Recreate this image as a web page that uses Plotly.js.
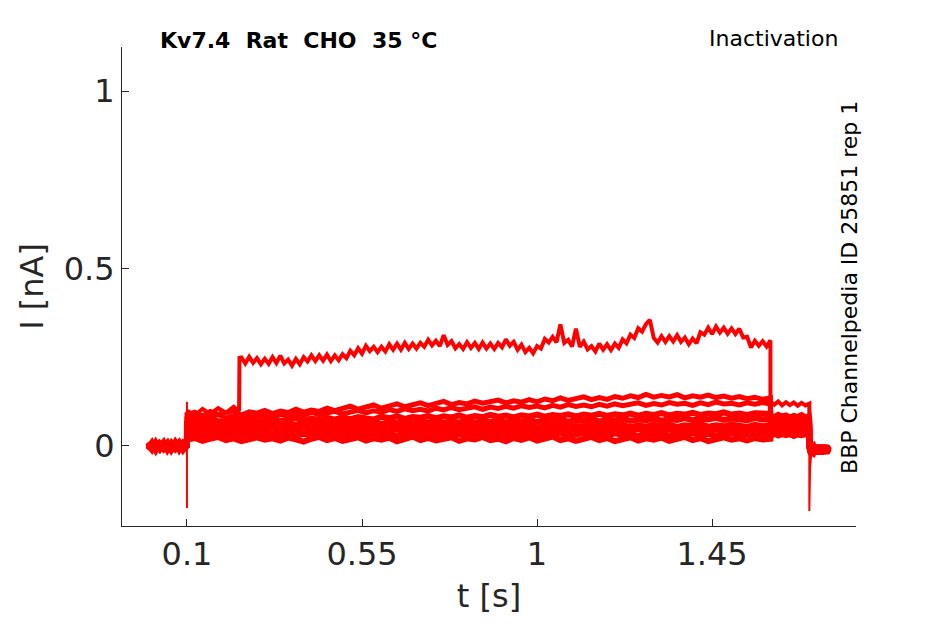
<!DOCTYPE html>
<html>
<head>
<meta charset="utf-8">
<script src="https://cdn.plot.ly/plotly-3.0.1.min.js"></script>
<style>
  body { margin: 0; background: #ffffff; }
  #myDiv { width: 945px; height: 624px; }
</style>
</head>
<body>
<div id="myDiv"></div>
<script>
// time bases [s]
var tBase = [0, 0.01, 0.02, 0.03, 0.04, 0.05, 0.06, 0.07, 0.08, 0.09, 0.1];
var tPulse = [0.1, 0.102,
  0.12, 0.14, 0.16, 0.18, 0.2, 0.22, 0.24, 0.26, 0.28, 0.3,
  0.32, 0.34, 0.36, 0.38, 0.4, 0.42, 0.44, 0.46, 0.48, 0.5,
  0.52, 0.54, 0.56, 0.58, 0.6, 0.62, 0.64, 0.66, 0.68, 0.7,
  0.72, 0.74, 0.76, 0.78, 0.8, 0.82, 0.84, 0.86, 0.88, 0.9,
  0.92, 0.94, 0.96, 0.98, 1.0, 1.02, 1.04, 1.06, 1.08, 1.1,
  1.12, 1.14, 1.16, 1.18, 1.2, 1.22, 1.24, 1.26, 1.28, 1.3,
  1.32, 1.34, 1.36, 1.38, 1.4, 1.42, 1.44, 1.46, 1.48, 1.5,
  1.52, 1.54, 1.56, 1.58, 1.6];
var tTop = [0.1, 0.102, 0.12, 0.14, 0.16, 0.18, 0.2, 0.22, 0.234, 0.235,
  0.24, 0.25, 0.26, 0.27, 0.28, 0.29, 0.3, 0.31, 0.32, 0.33,
  0.34, 0.35, 0.36, 0.37, 0.38, 0.39, 0.4, 0.41, 0.42, 0.43,
  0.44, 0.45, 0.46, 0.47, 0.48, 0.49, 0.5, 0.51, 0.52, 0.53,
  0.54, 0.55, 0.56, 0.57, 0.58, 0.59, 0.6, 0.61, 0.62, 0.63,
  0.64, 0.65, 0.66, 0.67, 0.68, 0.69, 0.7, 0.71, 0.72, 0.73,
  0.74, 0.75, 0.76, 0.77, 0.78, 0.79, 0.8, 0.81, 0.82, 0.83,
  0.84, 0.85, 0.86, 0.87, 0.88, 0.89, 0.9, 0.91, 0.92, 0.93,
  0.94, 0.95, 0.96, 0.97, 0.98, 0.99, 1.0, 1.01, 1.02, 1.03,
  1.04, 1.05, 1.06, 1.07, 1.08, 1.09, 1.1, 1.11, 1.12, 1.13,
  1.14, 1.15, 1.16, 1.17, 1.18, 1.19, 1.2, 1.21, 1.22, 1.23,
  1.24, 1.25, 1.26, 1.27, 1.28, 1.29, 1.3, 1.31, 1.32, 1.33,
  1.34, 1.35, 1.36, 1.37, 1.38, 1.39, 1.4, 1.41, 1.42, 1.43,
  1.44, 1.45, 1.46, 1.47, 1.48, 1.49, 1.5, 1.51, 1.52, 1.53,
  1.54, 1.55, 1.56, 1.57, 1.58, 1.59, 1.6];
var tTest = [1.6, 1.61, 1.62, 1.63, 1.64, 1.65, 1.66, 1.67, 1.68, 1.69, 1.7];
var tTail = [1.7, 1.702, 1.71, 1.715, 1.72, 1.725, 1.73, 1.735, 1.74, 1.745, 1.75];

// capacitive transients at the voltage steps
var tSpikeOn = [0.1, 0.1, 0.1, 0.1];
var iSpikeOn = [0.0, -0.175, 0.124, 0.09];
var tSpikeOff = [1.7, 1.7, 1.702, 1.706];
var iSpikeOff = [0.1, -0.184, -0.06, -0.01];

// current [nA], sweep A (largest) .. I (smallest)
var baseA = [0.008, -0.009, 0.004, -0.012, 0.009, -0.005, 0.011, -0.01, 0.003, -0.008, 0.0];
var baseB = [-0.01, 0.006, -0.007, 0.01, -0.013, 0.004, -0.009, 0.008, -0.014, 0.005, -0.002];
var baseC = [0.004, -0.012, 0.009, -0.003, 0.007, -0.011, 0.002, -0.008, 0.01, -0.01, 0.001];
var baseD = [-0.006, 0.009, -0.011, 0.002, -0.008, 0.01, -0.012, 0.004, -0.005, 0.008, -0.004];
var baseE = [0.01, -0.005, 0.002, -0.01, 0.006, -0.014, 0.007, -0.003, 0.009, -0.012, 0.002];
var baseF = [-0.012, 0.002, -0.008, 0.007, -0.003, 0.009, -0.01, 0.01, -0.006, 0.004, -0.006];
var baseG = [0.002, -0.01, 0.01, -0.006, 0.004, -0.009, 0.006, -0.013, 0.007, -0.002, 0.003];
var baseH = [-0.005, 0.007, -0.013, 0.005, -0.009, 0.002, -0.006, 0.009, -0.011, 0.007, -0.003];
var baseI = [0.009, -0.008, 0.005, -0.003, 0.01, -0.012, 0.004, -0.009, 0.006, -0.006, 0.001];

var pulseA = [0.09, 0.098, 0.086, 0.104, 0.09, 0.106, 0.093, 0.11, 0.098, 0.248,
  0.249, 0.232, 0.251, 0.234, 0.247, 0.23, 0.245, 0.231, 0.25, 0.233,
  0.254, 0.232, 0.243, 0.226, 0.245, 0.23, 0.25, 0.238, 0.255, 0.239,
  0.255, 0.24, 0.257, 0.239, 0.255, 0.241, 0.258, 0.247, 0.268, 0.255,
  0.275, 0.26, 0.282, 0.267, 0.279, 0.264, 0.279, 0.266, 0.286, 0.271,
  0.288, 0.271, 0.29, 0.273, 0.288, 0.274, 0.29, 0.279, 0.299, 0.283,
  0.296, 0.281, 0.312, 0.284, 0.295, 0.275, 0.287, 0.273, 0.292, 0.276,
  0.29, 0.273, 0.291, 0.274, 0.288, 0.273, 0.29, 0.278, 0.3, 0.282,
  0.293, 0.271, 0.285, 0.264, 0.276, 0.261, 0.281, 0.274, 0.301, 0.291,
  0.307, 0.292, 0.342, 0.29, 0.299, 0.28, 0.33, 0.279, 0.294, 0.272,
  0.281, 0.266, 0.288, 0.271, 0.286, 0.27, 0.288, 0.276, 0.3, 0.289,
  0.313, 0.304, 0.331, 0.322, 0.343, 0.355, 0.304, 0.291, 0.309, 0.293,
  0.309, 0.294, 0.312, 0.293, 0.305, 0.286, 0.302, 0.289, 0.32, 0.313,
  0.333, 0.315, 0.336, 0.319, 0.333, 0.316, 0.331, 0.315, 0.33, 0.305,
  0.307, 0.277, 0.296, 0.282, 0.295, 0.28, 0.297];
var pulseB = [0.094, 0.088,
  0.095, 0.084, 0.097, 0.089, 0.093, 0.099, 0.087, 0.096, 0.092, 0.1,
  0.091, 0.098, 0.094, 0.103, 0.095, 0.101, 0.097, 0.106, 0.099, 0.104,
  0.112, 0.103, 0.109, 0.115, 0.106, 0.113, 0.118, 0.11, 0.117, 0.121,
  0.113, 0.119, 0.125, 0.116, 0.122, 0.118, 0.126, 0.12, 0.124, 0.129,
  0.121, 0.127, 0.123, 0.13, 0.124, 0.132, 0.127, 0.135, 0.128, 0.133,
  0.138, 0.13, 0.136, 0.131, 0.139, 0.134, 0.141, 0.136, 0.145, 0.137,
  0.142, 0.138, 0.144, 0.135, 0.141, 0.137, 0.143, 0.136, 0.14, 0.134,
  0.139, 0.133, 0.137, 0.131, 0.135];
var pulseC = [0.082, 0.079,
  0.084, 0.076, 0.082, 0.088, 0.078, 0.085, 0.081, 0.089, 0.083, 0.087,
  0.08, 0.089, 0.085, 0.092, 0.086, 0.094, 0.088, 0.093, 0.097, 0.09,
  0.096, 0.1, 0.093, 0.099, 0.095, 0.102, 0.097, 0.104, 0.099, 0.103,
  0.098, 0.106, 0.101, 0.108, 0.102, 0.107, 0.11, 0.103, 0.109, 0.105,
  0.111, 0.106, 0.113, 0.108, 0.112, 0.107, 0.114, 0.109, 0.116, 0.111,
  0.115, 0.11, 0.117, 0.112, 0.118, 0.113, 0.116, 0.121, 0.114, 0.119,
  0.115, 0.122, 0.117, 0.12, 0.114, 0.121, 0.116, 0.123, 0.118, 0.12,
  0.115, 0.121, 0.117, 0.122, 0.118];
var pulseD = [0.07, 0.068,
  0.072, 0.066, 0.074, 0.069, 0.065, 0.073, 0.07, 0.075, 0.068, 0.072,
  0.076, 0.07, 0.074, 0.078, 0.071, 0.077, 0.073, 0.079, 0.074, 0.08,
  0.075, 0.081, 0.077, 0.074, 0.082, 0.078, 0.083, 0.076, 0.081, 0.079,
  0.084, 0.078, 0.083, 0.08, 0.086, 0.079, 0.084, 0.081, 0.087, 0.082,
  0.085, 0.08, 0.086, 0.083, 0.088, 0.082, 0.087, 0.084, 0.089, 0.083,
  0.088, 0.085, 0.09, 0.084, 0.089, 0.086, 0.091, 0.085, 0.09, 0.087,
  0.092, 0.086, 0.09, 0.088, 0.093, 0.087, 0.091, 0.089, 0.094, 0.088,
  0.091, 0.087, 0.092, 0.089, 0.09];
var pulseE = [0.06, 0.058,
  0.062, 0.056, 0.061, 0.065, 0.057, 0.063, 0.059, 0.064, 0.058, 0.062,
  0.066, 0.06, 0.064, 0.058, 0.063, 0.067, 0.061, 0.065, 0.06, 0.066,
  0.062, 0.068, 0.063, 0.066, 0.061, 0.067, 0.064, 0.069, 0.063, 0.067,
  0.065, 0.07, 0.064, 0.068, 0.066, 0.071, 0.065, 0.069, 0.067, 0.072,
  0.066, 0.07, 0.068, 0.073, 0.067, 0.071, 0.069, 0.074, 0.068, 0.072,
  0.07, 0.075, 0.069, 0.073, 0.071, 0.076, 0.07, 0.074, 0.072, 0.077,
  0.071, 0.075, 0.073, 0.078, 0.072, 0.076, 0.074, 0.079, 0.073, 0.077,
  0.075, 0.072, 0.078, 0.074, 0.076];
var pulseF = [0.05, 0.047,
  0.052, 0.046, 0.051, 0.055, 0.048, 0.053, 0.049, 0.054, 0.047, 0.052,
  0.056, 0.05, 0.053, 0.048, 0.055, 0.051, 0.057, 0.049, 0.054, 0.052,
  0.048, 0.055, 0.05, 0.056, 0.052, 0.058, 0.051, 0.054, 0.049, 0.056,
  0.053, 0.057, 0.05, 0.055, 0.052, 0.058, 0.051, 0.056, 0.053, 0.059,
  0.052, 0.056, 0.054, 0.058, 0.051, 0.057, 0.053, 0.059, 0.052, 0.056,
  0.054, 0.06, 0.053, 0.057, 0.055, 0.059, 0.052, 0.058, 0.054, 0.06,
  0.055, 0.059, 0.053, 0.058, 0.056, 0.061, 0.054, 0.058, 0.055, 0.06,
  0.056, 0.053, 0.059, 0.055, 0.057];
var pulseG = [0.04, 0.038,
  0.042, 0.036, 0.041, 0.045, 0.037, 0.043, 0.039, 0.044, 0.036, 0.042,
  0.038, 0.044, 0.04, 0.046, 0.037, 0.043, 0.039, 0.045, 0.041, 0.038,
  0.044, 0.04, 0.046, 0.038, 0.043, 0.041, 0.047, 0.039, 0.044, 0.042,
  0.038, 0.045, 0.041, 0.046, 0.039, 0.044, 0.04, 0.047, 0.042, 0.045,
  0.039, 0.044, 0.041, 0.047, 0.04, 0.045, 0.042, 0.046, 0.039, 0.044,
  0.041, 0.047, 0.042, 0.045, 0.04, 0.046, 0.043, 0.048, 0.041, 0.045,
  0.042, 0.047, 0.04, 0.045, 0.043, 0.048, 0.041, 0.046, 0.042, 0.047,
  0.043, 0.04, 0.046, 0.042, 0.045];
var pulseH = [0.03, 0.028,
  0.032, 0.026, 0.031, 0.035, 0.027, 0.033, 0.029, 0.034, 0.026, 0.031,
  0.035, 0.028, 0.033, 0.027, 0.034, 0.03, 0.036, 0.028, 0.032, 0.029,
  0.034, 0.027, 0.032, 0.036, 0.029, 0.033, 0.028, 0.035, 0.031, 0.026,
  0.033, 0.029, 0.035, 0.03, 0.034, 0.027, 0.032, 0.036, 0.029, 0.033,
  0.028, 0.034, 0.031, 0.036, 0.029, 0.033, 0.03, 0.035, 0.028, 0.032,
  0.036, 0.03, 0.034, 0.029, 0.035, 0.031, 0.033, 0.028, 0.034, 0.03,
  0.035, 0.029, 0.033, 0.031, 0.036, 0.03, 0.034, 0.028, 0.032, 0.035,
  0.03, 0.034, 0.029, 0.033, 0.031];
var pulseI = [0.02, 0.018,
  0.022, 0.014, 0.02, 0.025, 0.016, 0.021, 0.013, 0.019, 0.024, 0.017,
  0.021, 0.015, 0.023, 0.018, 0.012, 0.02, 0.025, 0.016, 0.022, 0.014,
  0.019, 0.024, 0.015, 0.021, 0.017, 0.023, 0.013, 0.02, 0.026, 0.016,
  0.022, 0.015, 0.019, 0.024, 0.014, 0.021, 0.018, 0.025, 0.016, 0.02,
  0.013, 0.022, 0.017, 0.024, 0.015, 0.02, 0.026, 0.016, 0.021, 0.014,
  0.019, 0.025, 0.016, 0.022, 0.013, 0.02, 0.024, 0.015, 0.021, 0.017,
  0.023, 0.014, 0.02, 0.025, 0.016, 0.022, 0.013, 0.019, 0.024, 0.017,
  0.021, 0.015, 0.022, 0.018, 0.02];

var testA = [0.124, 0.116, 0.125, 0.114, 0.123, 0.115, 0.122, 0.113, 0.121, 0.114, 0.119];
var testB = [0.088, 0.082, 0.089, 0.084, 0.087, 0.081, 0.086, 0.083, 0.088, 0.082, 0.085];
var testC = [0.079, 0.074, 0.08, 0.076, 0.081, 0.075, 0.079, 0.073, 0.078, 0.076, 0.077];
var testD = [0.07, 0.065, 0.071, 0.067, 0.072, 0.066, 0.069, 0.064, 0.07, 0.066, 0.068];
var testE = [0.061, 0.057, 0.063, 0.058, 0.062, 0.056, 0.06, 0.055, 0.061, 0.057, 0.059];
var testF = [0.052, 0.047, 0.053, 0.049, 0.054, 0.048, 0.051, 0.046, 0.052, 0.049, 0.05];
var testG = [0.045, 0.04, 0.046, 0.042, 0.044, 0.039, 0.045, 0.041, 0.043, 0.04, 0.044];
var testH = [0.038, 0.033, 0.039, 0.035, 0.037, 0.032, 0.038, 0.034, 0.036, 0.033, 0.037];
var testI = [0.031, 0.035, 0.029, 0.033, 0.03, 0.034, 0.028, 0.032, 0.03, 0.033, 0.031];

var tailA = [-0.012, -0.014, 0.0, -0.019, -0.003, -0.022, -0.006, -0.017, 0.001, -0.02, -0.008];
var tailB = [-0.014, -0.02, -0.024, -0.004, -0.021, -0.002, -0.018, 0.002, -0.016, -0.003, -0.015];
var tailC = [-0.01, -0.016, -0.006, -0.024, -0.004, -0.02, 0.0, -0.017, -0.005, -0.022, -0.006];
var tailD = [-0.008, -0.012, -0.019, 0.0, -0.017, 0.002, -0.021, -0.004, -0.018, -0.001, -0.011];
var tailE = [-0.006, -0.01, -0.002, -0.02, -0.005, -0.023, -0.003, -0.016, 0.0, -0.018, -0.01];
var tailF = [-0.004, -0.012, -0.016, 0.001, -0.018, -0.004, -0.024, -0.001, -0.017, -0.003, -0.016];
var tailG = [-0.002, -0.008, -0.004, -0.021, 0.0, -0.017, -0.006, -0.022, -0.002, -0.016, -0.003];
var tailH = [0.0, -0.006, -0.02, -0.002, -0.016, 0.002, -0.019, -0.005, -0.021, -0.001, -0.011];
var tailI = [0.002, -0.004, 0.001, -0.017, -0.003, -0.02, -0.001, -0.015, 0.002, -0.018, -0.009];

var xTicks = [0.1, 0.55, 1, 1.45];
var xTickText = ['0.1', '0.55', '1', '1.45'];
var yTicks = [0, 0.5, 1];
var yTickText = ['0', '0.5', '1'];

function sweep(base, tPul, pulse, test, tail, w) {
  return {
    x: tBase.concat(tPul, tTest, tTail),
    y: base.concat(pulse, test, tail),
    type: 'scatter',
    mode: 'lines',
    line: { color: '#ff0000', width: w },
    hoverinfo: 'skip'
  };
}

function transient(t, i) {
  return {
    x: t, y: i,
    type: 'scatter',
    mode: 'lines',
    line: { color: '#ff0000', width: 2 },
    hoverinfo: 'skip'
  };
}

var data = [
  sweep(baseI, tPulse, pulseI, testI, tailI, 6),
  sweep(baseH, tPulse, pulseH, testH, tailH, 6),
  sweep(baseG, tPulse, pulseG, testG, tailG, 6),
  sweep(baseF, tPulse, pulseF, testF, tailF, 6),
  sweep(baseE, tPulse, pulseE, testE, tailE, 6),
  sweep(baseD, tPulse, pulseD, testD, tailD, 6),
  sweep(baseC, tPulse, pulseC, testC, tailC, 5),
  sweep(baseB, tPulse, pulseB, testB, tailB, 5),
  sweep(baseA, tTop, pulseA, testA, tailA, 4),
  transient(tSpikeOn, iSpikeOn),
  transient(tSpikeOff, iSpikeOff)
];

var axisFont = { family: 'DejaVu Sans, sans-serif', size: 32, color: '#262626' };

var layout = {
  width: 945,
  height: 624,
  margin: { l: 122, r: 89, t: 47, b: 98 },
  paper_bgcolor: '#ffffff',
  plot_bgcolor: '#ffffff',
  showlegend: false,
  xaxis: {
    range: [-0.067, 1.82],
    tickvals: xTicks,
    ticktext: xTickText,
    ticks: 'inside',
    ticklen: 7,
    tickcolor: '#262626',
    showline: true,
    linecolor: '#262626',
    linewidth: 1,
    showgrid: false,
    zeroline: false,
    tickfont: axisFont,
    title: { text: 't [s]', font: axisFont, standoff: 12 }
  },
  yaxis: {
    range: [-0.226, 1.124],
    tickvals: yTicks,
    ticktext: yTickText,
    ticks: 'inside',
    ticklen: 7,
    tickcolor: '#262626',
    showline: true,
    linecolor: '#262626',
    linewidth: 1,
    showgrid: false,
    zeroline: false,
    tickfont: axisFont,
    title: { text: 'I [nA]', font: axisFont, standoff: 10 }
  },
  annotations: [
    {
      text: '<b>Kv7.4\u00a0\u00a0Rat\u00a0\u00a0CHO\u00a0\u00a035 °C</b>',
      xref: 'paper', yref: 'paper', x: 0.049, y: 1.0146,
      xanchor: 'left', yanchor: 'middle', showarrow: false,
      font: { family: 'DejaVu Sans, sans-serif', size: 22, color: '#000000' }
    },
    {
      text: 'Inactivation',
      xref: 'paper', yref: 'paper', x: 0.978, y: 1.0186,
      xanchor: 'right', yanchor: 'middle', showarrow: false,
      font: { family: 'DejaVu Sans, sans-serif', size: 22, color: '#000000' }
    },
    {
      text: 'BBP Channelpedia ID 25851 rep 1',
      xref: 'paper', yref: 'paper', x: 0.9918, y: 0.499,
      xanchor: 'center', yanchor: 'middle', showarrow: false, textangle: -90,
      font: { family: 'DejaVu Sans, sans-serif', size: 22, color: '#000000' }
    }
  ]
};

Plotly.newPlot('myDiv', data, layout, { staticPlot: true, displayModeBar: false });
</script>
</body>
</html>
